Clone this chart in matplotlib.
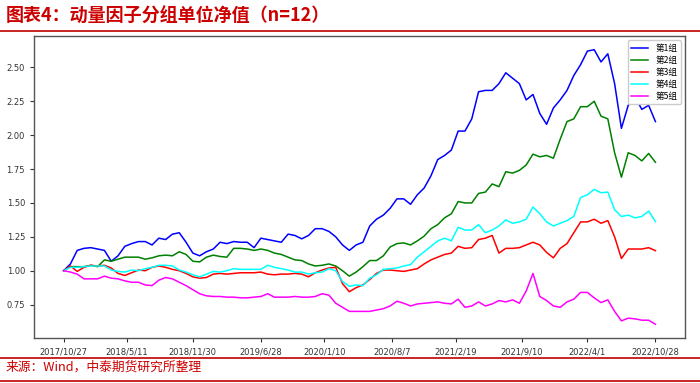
import pandas as pd
import matplotlib
matplotlib.use("Agg")
import matplotlib.pyplot as plt
from matplotlib.lines import Line2D

# data, sampled every 3 weeks from 2017/10/27 to 2022/10/28
dates = pd.date_range("2017-10-27", periods=88, freq="21D")

group1 = [1.00, 1.05, 1.15, 1.165, 1.17, 1.16, 1.15, 1.07, 1.11, 1.18,
          1.20, 1.215, 1.215, 1.19, 1.24, 1.23, 1.27, 1.28, 1.21, 1.13,
          1.11, 1.14, 1.16, 1.21, 1.20, 1.215, 1.21, 1.21, 1.17, 1.24,
          1.23, 1.22, 1.21, 1.27, 1.26, 1.235, 1.26, 1.31, 1.31, 1.29,
          1.25, 1.19, 1.15, 1.19, 1.21, 1.33, 1.38, 1.41, 1.46, 1.53,
          1.53, 1.49, 1.56, 1.61, 1.70, 1.82, 1.85, 1.89, 2.03, 2.03,
          2.12, 2.32, 2.33, 2.33, 2.38, 2.46, 2.42, 2.38, 2.26, 2.30,
          2.16, 2.08, 2.20, 2.26, 2.33, 2.44, 2.52, 2.62, 2.63, 2.54,
          2.60, 2.38, 2.05, 2.22, 2.28, 2.19, 2.22, 2.10]

group2 = [1.00, 1.03, 1.03, 1.03, 1.04, 1.03, 1.08, 1.07, 1.085, 1.10,
          1.10, 1.10, 1.085, 1.095, 1.11, 1.115, 1.11, 1.14, 1.12, 1.07,
          1.065, 1.10, 1.115, 1.105, 1.10, 1.165, 1.165, 1.16, 1.15, 1.16,
          1.15, 1.13, 1.12, 1.10, 1.08, 1.075, 1.05, 1.035, 1.04, 1.05,
          1.035, 1.00, 0.96, 0.99, 1.03, 1.075, 1.075, 1.11, 1.175, 1.20,
          1.205, 1.19, 1.22, 1.255, 1.31, 1.34, 1.39, 1.42, 1.51, 1.50,
          1.50, 1.57, 1.58, 1.64, 1.62, 1.73, 1.72, 1.74, 1.78, 1.86,
          1.84, 1.85, 1.83, 1.97, 2.10, 2.12, 2.21, 2.21, 2.25, 2.14,
          2.12, 1.87, 1.69, 1.87, 1.85, 1.81, 1.865, 1.80]

group3 = [1.00, 1.035, 0.995, 1.025, 1.04, 1.035, 1.04, 1.02, 0.98, 0.965,
          0.985, 1.005, 1.00, 1.025, 1.035, 1.025, 1.01, 1.00, 0.98, 0.955,
          0.945, 0.95, 0.975, 0.98, 0.975, 0.98, 0.985, 0.985, 0.985, 0.99,
          0.975, 0.97, 0.975, 0.975, 0.98, 0.975, 0.955, 0.985, 1.005, 1.02,
          1.025, 0.905, 0.845, 0.875, 0.895, 0.935, 0.98, 1.005, 1.005, 1.00,
          0.995, 1.005, 1.015, 1.05, 1.08, 1.10, 1.12, 1.13, 1.18, 1.165,
          1.17, 1.23, 1.24, 1.26, 1.13, 1.165, 1.165, 1.17, 1.19, 1.21,
          1.19, 1.135, 1.095, 1.165, 1.20, 1.28, 1.36, 1.36, 1.38, 1.35,
          1.37, 1.25, 1.09, 1.16, 1.16, 1.16, 1.17, 1.148]

group4 = [1.00, 1.025, 1.025, 1.03, 1.035, 1.035, 1.035, 1.005, 0.995, 0.99,
          1.005, 1.00, 1.015, 1.025, 1.04, 1.04, 1.035, 1.005, 0.99, 0.97,
          0.955, 0.975, 0.995, 0.99, 1.00, 1.015, 1.01, 1.01, 1.01, 1.01,
          1.04, 1.025, 1.015, 1.005, 0.99, 0.99, 0.975, 0.985, 0.99, 1.015,
          1.00, 0.92, 0.885, 0.895, 0.89, 0.945, 0.97, 1.01, 1.015, 1.02,
          1.035, 1.045, 1.10, 1.14, 1.18, 1.22, 1.24, 1.22, 1.32, 1.30,
          1.30, 1.34, 1.28, 1.30, 1.33, 1.375, 1.35, 1.36, 1.38, 1.47,
          1.42, 1.36, 1.33, 1.35, 1.37, 1.40, 1.54, 1.56, 1.60, 1.575,
          1.58, 1.45, 1.40, 1.41, 1.39, 1.40, 1.44, 1.363]

group5 = [1.00, 0.99, 0.975, 0.94, 0.94, 0.94, 0.96, 0.945, 0.94, 0.925,
          0.915, 0.915, 0.895, 0.89, 0.93, 0.95, 0.94, 0.915, 0.89, 0.86,
          0.83, 0.815, 0.81, 0.81, 0.805, 0.805, 0.80, 0.80, 0.805, 0.81,
          0.83, 0.805, 0.805, 0.805, 0.81, 0.805, 0.805, 0.81, 0.83, 0.82,
          0.76, 0.73, 0.70, 0.70, 0.70, 0.70, 0.71, 0.72, 0.74, 0.775,
          0.76, 0.74, 0.755, 0.76, 0.765, 0.77, 0.76, 0.755, 0.79, 0.73,
          0.74, 0.77, 0.74, 0.755, 0.78, 0.77, 0.785, 0.76, 0.85, 0.98,
          0.81, 0.78, 0.74, 0.73, 0.77, 0.79, 0.84, 0.84, 0.80, 0.765,
          0.785, 0.70, 0.63, 0.65, 0.645, 0.635, 0.635, 0.605]

labels = ["第1组", "第2组", "第3组", "第4组", "第5组"]
colors = ["blue", "green", "red", "cyan", "magenta"]

tick_labels = ["2017/10/27", "2018/5/11", "2018/11/30", "2019/6/28", "2020/1/10",
               "2020/8/7", "2021/2/19", "2021/9/10", "2022/4/1", "2022/10/28"]

cjk = ["Noto Sans CJK SC", "DejaVu Sans"]
red = "#cc0000"

fig = plt.figure(figsize=(7, 3.83), dpi=100)
ax = fig.add_axes([0.0486, 0.1175, 0.930, 0.7885])

for vals, lab, col in zip([group1, group2, group3, group4, group5], labels, colors):
    ax.plot(dates, vals, color=col, linewidth=1.1, label=lab)

ticks = pd.to_datetime(tick_labels, format="%Y/%m/%d")
ax.set_xticks(ticks)
ax.set_xticklabels(tick_labels)
ax.set_yticks([0.75, 1.00, 1.25, 1.50, 1.75, 2.00, 2.25, 2.50])
ax.yaxis.set_major_formatter(matplotlib.ticker.FormatStrFormatter("%.2f"))
ax.tick_params(labelsize=6, colors="#333333", length=3, width=0.8)

for s in ax.spines.values():
    s.set_color("#555555")
    s.set_linewidth(1.0)

leg = ax.legend(loc="upper right", prop={"family": cjk, "size": 6.2},
                handlelength=2.0, borderpad=0.4, labelspacing=0.35,
                framealpha=1.0, edgecolor="#cccccc", fancybox=True)

# header and footer
fig.text(0.008, 0.958, "图表4：动量因子分组单位净值（n=12）", color=red,
         fontsize=13, fontweight="bold", family=cjk, va="center", ha="left")
fig.text(0.008, 0.042, "来源：Wind，中泰期货研究所整理", color=red,
         fontsize=9.2, family=cjk, va="center", ha="left")
for yy in [1 - 31 / 383, 1 - 358 / 383, 1 - 381 / 383]:
    fig.add_artist(Line2D([0, 1], [yy, yy], color="#c00000", linewidth=1.2,
                          transform=fig.transFigure))

fig.savefig("out.png", dpi=100)
